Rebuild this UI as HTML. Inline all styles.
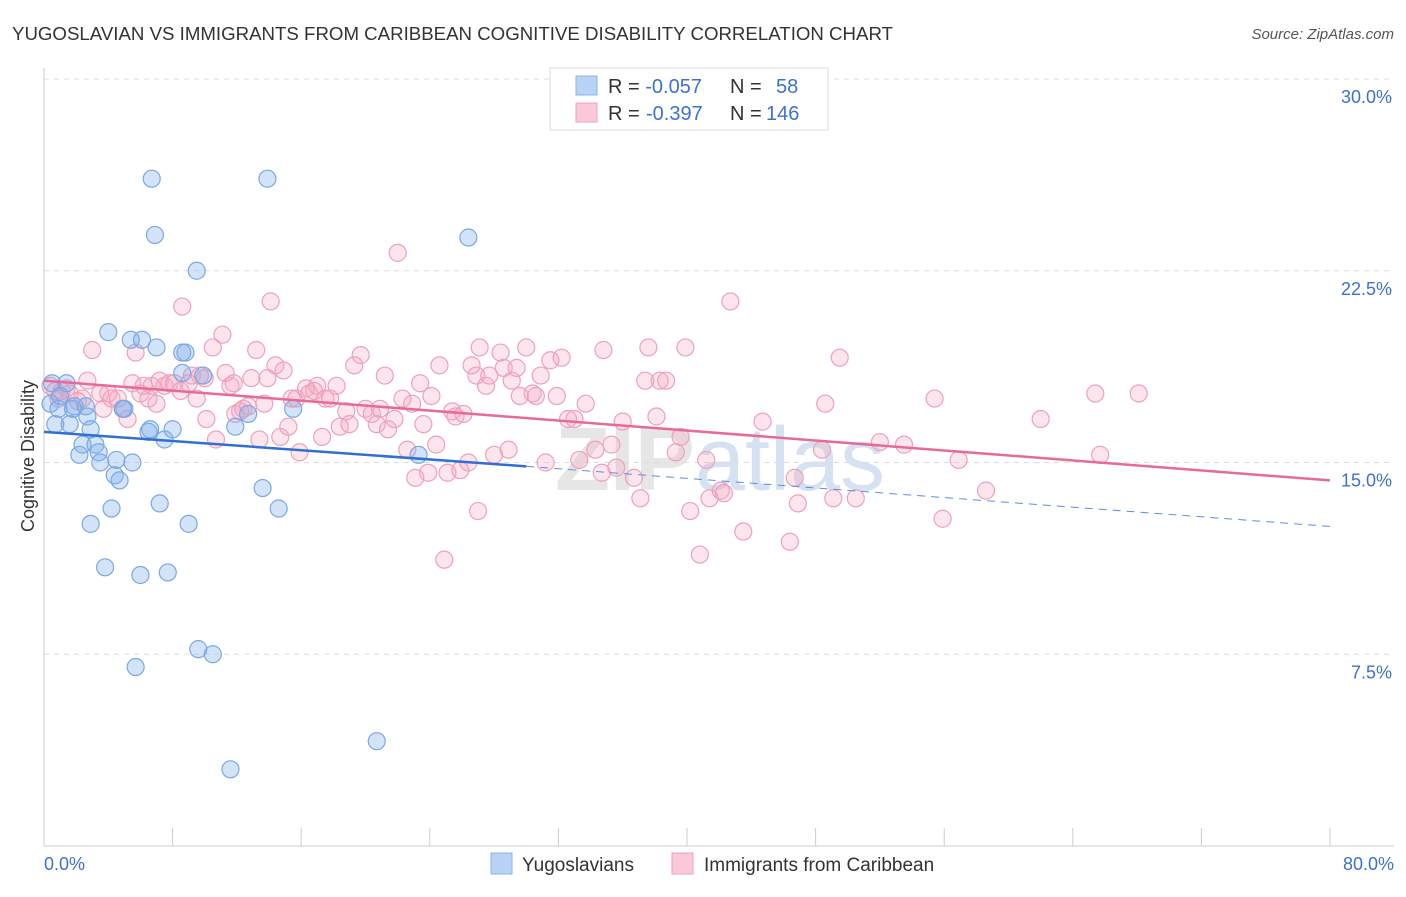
<!DOCTYPE html>
<html><head><meta charset="utf-8"><style>
body{margin:0;background:#fff;font-family:"Liberation Sans",sans-serif;}
svg text{font-family:"Liberation Sans",sans-serif;}
</style></head><body>
<svg id="chart" width="1406" height="892">
<text x="12" y="40" font-size="18.5" fill="#333" textLength="881" lengthAdjust="spacingAndGlyphs">YUGOSLAVIAN VS IMMIGRANTS FROM CARIBBEAN COGNITIVE DISABILITY CORRELATION CHART</text>
<text x="1394" y="39" font-size="15" fill="#555" font-style="italic" text-anchor="end">Source: ZipAtlas.com</text>
<text x="720" y="490" font-size="90" fill="#e6e6e6" text-anchor="middle" font-weight="bold">ZIP<tspan fill="#d6e2f2" font-weight="normal">atlas</tspan></text>
<g id="grid"></g><g id="axes"></g><g id="pts"></g><g id="trend"></g>
<text transform="translate(34,456) rotate(-90)" font-size="18" fill="#333" text-anchor="middle">Cognitive Disability</text>
<g>
<rect x="550" y="68" width="278" height="62" fill="#fff" stroke="#ddd"/>
<rect x="576" y="76" width="21" height="19" fill="#b8d3f4" stroke="#8ab4ea"/>
<rect x="576" y="103" width="21" height="19" fill="#fac8d8" stroke="#f0a0bb"/>
<text x="608" y="93" font-size="20" fill="#333">R = <tspan fill="#3d72d0">-0.057</tspan><tspan x="730">N =</tspan><tspan x="776" fill="#3d72d0">58</tspan></text>
<text x="608" y="120" font-size="20" fill="#333">R = <tspan x="646" fill="#3d72d0">-0.397</tspan><tspan x="730">N =</tspan><tspan x="766" fill="#3d72d0">146</tspan></text>
</g>
<g>
<rect x="491" y="853" width="21" height="21" fill="#b8d3f4" stroke="#8ab4ea"/>
<text x="522" y="871" font-size="19" fill="#333">Yugoslavians</text>
<rect x="672" y="853" width="21" height="21" fill="#fac8d8" stroke="#f0a0bb"/>
<text x="704" y="871" font-size="19" fill="#333">Immigrants from Caribbean</text>
</g>
</svg>
<script>
const yTicks=[7.5,15,22.5,30];
const yTickLabels=["7.5%","15.0%","22.5%","30.0%"];
const xTickLabels=["0.0%","80.0%"];
const blueX=[0.5,0.4,0.7,1.4,1.0,0.9,1.6,1.8,1.9,2.7,2.9,2.2,2.4,3.2,3.4,3.5,4.5,5.5,4.4,4.7,2.9,4.2,3.8,4.0,5.0,4.9,5.4,6.1,6.5,6.6,7.0,7.5,8.0,7.2,6.0,7.7,9.0,8.6,8.8,8.6,9.9,6.7,6.9,9.5,5.7,9.6,10.5,11.6,11.9,12.7,13.6,14.6,13.9,15.5,20.7,23.3,26.4,2.6];
const blueY=[18.1,17.3,16.5,18.1,17.6,17.1,16.5,17.1,17.2,16.8,16.3,15.3,15.7,15.7,15.4,15.0,15.1,15.0,14.5,14.3,12.6,13.2,10.9,20.1,17.1,17.1,19.8,19.8,16.2,16.3,19.5,15.9,16.3,13.4,10.6,10.7,12.6,19.3,19.3,18.5,18.4,26.1,23.9,22.5,7.0,7.7,7.5,3.0,16.4,16.9,14.0,13.2,26.1,17.1,4.1,15.3,23.8,17.2];
const pinkX=[0.4,0.7,0.9,1.1,1.4,1.6,2.1,2.4,2.7,3.0,3.5,3.7,4.0,4.2,4.6,4.9,5.2,5.5,5.7,6.0,6.2,6.5,6.7,7.0,7.2,7.5,7.8,8.1,8.5,8.6,9.0,9.2,9.5,9.7,10.0,10.1,10.5,10.7,11.1,11.3,11.6,11.8,11.9,12.2,12.4,12.7,12.9,13.2,13.4,13.7,13.9,14.1,14.4,14.7,14.9,15.2,15.4,15.7,15.9,16.3,16.5,16.8,17.0,17.3,17.5,17.8,18.2,18.4,18.8,19.0,19.3,19.7,20.0,20.4,20.7,20.9,21.2,21.4,21.8,22.0,22.3,22.6,22.9,23.1,23.4,23.6,23.9,24.1,24.4,24.6,24.9,25.1,25.4,25.6,25.9,26.1,26.4,26.6,26.9,27.0,27.1,27.5,27.7,28.0,28.4,28.6,28.9,29.1,29.4,29.6,30.0,30.4,30.6,30.9,31.2,31.5,31.9,32.2,32.6,33.0,33.3,33.7,34.3,34.7,34.8,35.3,35.6,36.0,36.7,37.1,37.4,37.6,38.1,38.3,38.7,39.3,39.6,39.9,40.2,40.8,41.2,41.4,42.1,42.3,42.7,43.5,44.7,46.4,46.7,46.9,48.4,48.6,49.1,49.5,50.5,52.0,53.5,55.4,55.9,56.9,58.6,62.0,65.4,65.7,68.1];
const pinkY=[18.0,17.8,17.5,17.8,17.9,17.7,17.4,17.5,18.2,19.4,17.7,17.1,17.7,17.5,17.5,17.1,16.7,18.1,19.3,17.7,18.0,17.5,18.0,17.3,18.2,18.0,18.1,18.1,17.8,21.1,18.1,18.4,17.5,18.4,18.3,16.7,19.5,15.9,20.0,18.5,18.0,18.1,16.9,17.0,17.1,17.2,18.3,19.4,15.9,17.3,18.3,21.3,18.8,16.0,18.6,16.4,17.5,17.5,15.4,17.9,17.7,17.8,18.0,16.0,17.5,17.5,18.0,16.4,17.0,16.5,18.8,19.2,17.1,16.9,16.5,17.1,18.4,16.3,16.7,23.2,17.5,15.5,17.3,14.4,18.1,16.5,14.6,17.6,15.7,18.8,11.2,14.6,17.0,16.8,14.7,16.9,15.0,18.8,18.4,13.1,19.5,18.0,18.4,15.3,19.3,18.7,15.5,18.2,18.7,17.6,19.5,17.7,17.6,18.4,15.0,19.0,17.6,19.1,16.7,16.7,15.1,17.3,15.5,14.6,19.4,15.7,14.8,16.6,14.4,13.6,18.2,19.5,16.8,18.2,18.2,15.4,16.0,19.5,13.1,11.4,15.1,13.6,13.9,13.8,21.3,12.3,16.6,11.9,14.4,13.4,15.5,17.3,13.6,19.1,13.6,15.8,15.7,17.5,12.8,15.1,13.9,16.7,17.7,15.3,17.7];
const blueTrend=[[0,16.2],[30,14.85],[80,12.5]];
const pinkTrend=[[0,18.2],[80,14.3]];
const NS="http://www.w3.org/2000/svg";
const X0=44,X1=1330,Y0=846,YT=79;
const sx=v=>X0+(X1-X0)*v/80;
const sy=v=>Y0-(Y0-YT)*v/30;
function mk(tag,attrs,parent){const e=document.createElementNS(NS,tag);for(const k in attrs)e.setAttribute(k,attrs[k]);document.getElementById(parent).appendChild(e);return e;}
yTicks.forEach((t,i)=>{
 const l=mk('line',{x1:X0,x2:1394,y1:sy(t),y2:sy(t),stroke:'#ddd','stroke-dasharray':'5,5'},'grid');
 
 
 const tx=mk('text',{x:1392,y:sy(t)+24,'font-size':18,fill:'#3d72d0','text-anchor':'end'},'axes');
 tx.textContent=yTickLabels[i];
 
 
});
const ax=mk('line',{x1:X0,x2:X0,y1:68,y2:Y0,stroke:'#ccc'},'axes');


const bx=mk('line',{x1:X0,x2:1394,y1:Y0,y2:Y0,stroke:'#ccc'},'axes');


for(let i=0;i<=10;i++){const tk=mk('line',{x1:X0+i*128.6,x2:X0+i*128.6,y1:Y0,y2:Y0-18,stroke:'#ccc'},'axes');
 
 }
[[0,'start',44],[80,'end',1394]].forEach((d,i)=>{const t=mk('text',{x:d[2],y:870,'font-size':18,fill:'#3d72d0','text-anchor':d[1]},'axes');t.textContent=xTickLabels[i];
 
 });
const nP=Math.min(pinkX.length,pinkY.length);
for(let i=0;i<nP;i++){const c=mk('circle',{cx:sx(pinkX[i]),cy:sy(pinkY[i]),r:8.5,fill:'rgba(246,170,196,0.3)',stroke:'#f0a0bb','stroke-width':1.2},'pts');
 
 }
blueX.forEach((v,i)=>{const c=mk('circle',{cx:sx(v),cy:sy(blueY[i]),r:8.5,fill:'rgba(130,175,235,0.35)',stroke:'#7aa8e6','stroke-width':1.2},'pts');
 
 });
const b1=mk('line',{x1:sx(blueTrend[0][0]),y1:sy(blueTrend[0][1]),x2:sx(blueTrend[1][0]),y2:sy(blueTrend[1][1]),stroke:'#2f6fd6','stroke-width':2.5},'trend');


const b2=mk('line',{x1:sx(blueTrend[1][0]),y1:sy(blueTrend[1][1]),x2:sx(blueTrend[2][0]),y2:sy(blueTrend[2][1]),stroke:'#5b8fe0','stroke-width':1,'stroke-dasharray':'8,6'},'trend');


const p1=mk('line',{x1:sx(pinkTrend[0][0]),y1:sy(pinkTrend[0][1]),x2:sx(pinkTrend[1][0]),y2:sy(pinkTrend[1][1]),stroke:'#e86a98','stroke-width':2.5},'trend');


</script>
</body></html>
